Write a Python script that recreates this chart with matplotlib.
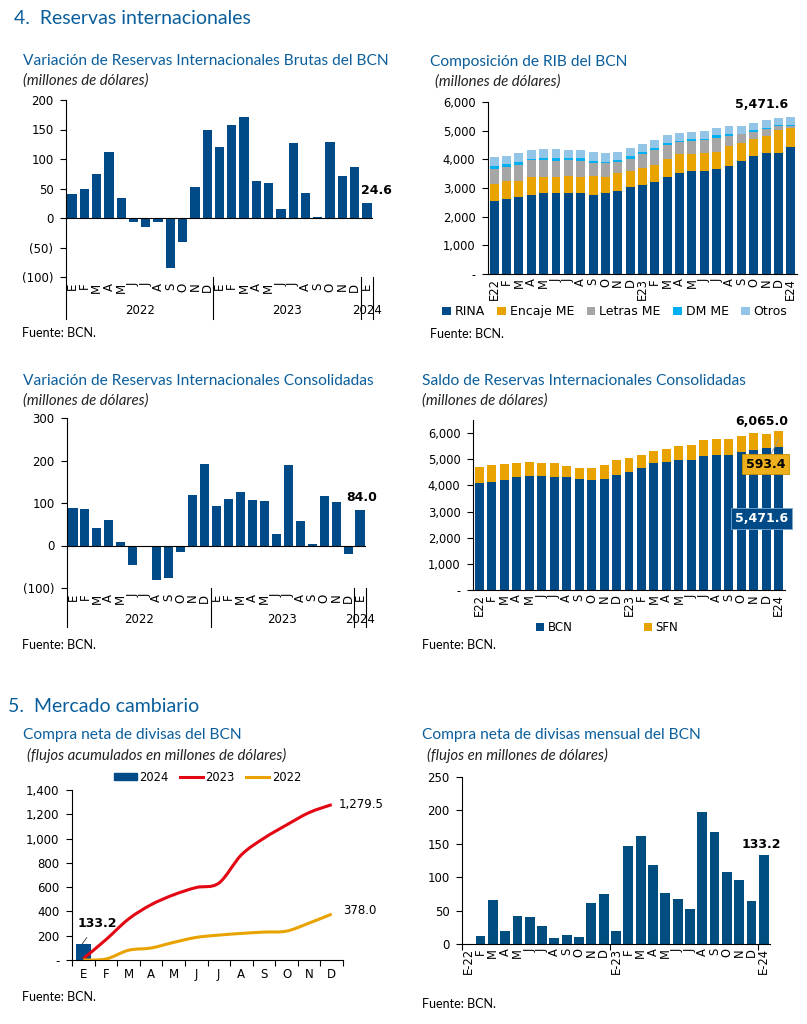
import numpy as np
import matplotlib
matplotlib.use('Agg')
import matplotlib.pyplot as plt
from matplotlib.path import Path
from matplotlib.patches import PathPatch, Patch
from matplotlib.lines import Line2D
from matplotlib.ticker import FuncFormatter
import matplotlib.transforms as mtransforms

# ---- data -------------------------------------------------------------
months = ['E', 'F', 'M', 'A', 'M', 'J', 'J', 'A', 'S', 'O', 'N', 'D']
lab_short = months + months + ['E']
lab_rib = ['E22'] + months[1:] + ['E23'] + months[1:] + ['E24']
lab_dash = ['E-22'] + months[1:] + ['E-23'] + months[1:] + ['E-24']
years = ['2022', '2023', '2024']

var_rib = [40, 49, 74, 112, 34, -7, -15, -7, -85, -41, 52, 150,
           120, 158, 172, 62, 59, 15, 127, 42, 2, 129, 72, 86, 24.6]

rina = [2530, 2630, 2700, 2770, 2840, 2820, 2840, 2810, 2760, 2810, 2910, 3020,
        3090, 3200, 3400, 3530, 3590, 3610, 3650, 3780, 3950, 4120, 4220, 4230, 4430]
encaje = [610, 610, 560, 610, 560, 580, 580, 590, 650, 580, 600, 580,
          610, 610, 600, 640, 610, 600, 620, 680, 630, 600, 600, 810, 680]
letras = [530, 500, 550, 580, 590, 550, 540, 550, 470, 470, 410, 420,
          500, 530, 510, 430, 440, 450, 480, 360, 290, 230, 240, 130, 60]
dm_me = [110, 90, 110, 60, 70, 100, 90, 100, 70, 60, 70, 90,
         40, 60, 70, 40, 60, 50, 100, 60, 30, 70, 30, 20, 30]
otros = [310, 300, 290, 290, 290, 300, 280, 270, 290, 290, 270, 280,
         290, 270, 270, 270, 260, 270, 260, 270, 250, 250, 270, 250, 271.6]

var_cons = [89, 87, 41, 60, 9, -47, -2, -82, -76, -16, 119, 191,
            93, 109, 126, 106, 105, 27, 189, 57, 4, 116, 103, -20, 84.0]

sfn = [600, 640, 600, 550, 530, 490, 510, 430, 440, 450, 520, 580,
       530, 500, 450, 490, 540, 550, 610, 630, 630, 620, 640, 530, 593.4]

acum_2024 = [133.2]
acum_2023 = [11, 167, 337, 455, 537, 597, 633, 866, 1003, 1112, 1214, 1279.5]
acum_2022 = [0, 8, 80, 99, 145, 186, 205, 219, 230, 238, 304, 378.0]

compra_mes = [0, 12, 66, 19, 42, 40, 27, 9, 14, 11, 62, 75,
              19, 146, 162, 118, 76, 67, 52, 198, 168, 108, 96, 64, 133.2]

# ---- style ------------------------------------------------------------
BLUE = '#004B87'
GOLD = '#E8A300'
GRAY = '#A6A6A6'
CYAN = '#00B0F0'
LBLUE = '#93C6E6'
RED = '#E30613'
TITLE = '#0A5E9C'
TFONT = 'Lato'

plt.rcParams['font.family'] = 'DejaVu Sans'
plt.rcParams['font.size'] = 8

W, H = 807, 1024
fig = plt.figure(figsize=(W / 100, H / 100), dpi=100)


def add_ax(l, t, r, b, ysize=8.5):
    ax = fig.add_axes([l / W, 1 - b / H, (r - l) / W, (b - t) / H])
    for s in ['top', 'right', 'bottom']:
        ax.spines[s].set_visible(False)
    ax.spines['left'].set_linewidth(0.8)
    ax.tick_params(axis='y', length=4, width=0.8, labelsize=ysize, pad=5)
    return ax


def vlabels(ax, x, labels, size, pad):
    # vertical category labels, end of the text against the axis
    ax.set_xticks(x, labels)
    ax.tick_params(axis='x', which='major', length=0, pad=pad, labelsize=size)
    plt.setp(ax.get_xticklabels(), rotation=90, ha='right', va='center', rotation_mode='anchor')


def ftext(x, y, s, **kw):
    fig.text(x / W, 1 - y / H, s, va='center', **kw)


def heading(x, y, title, sub, dx=0):
    ftext(x, y, title, family=TFONT, fontsize=11.2, color=TITLE)
    ftext(x + dx, y + 20, sub, family=TFONT, fontsize=10.8, style='italic', color='#222222')


def comma(v, pos):
    return '-' if v == 0 else '{:,.0f}'.format(v)


def paren(v, pos):
    return '({:.0f})'.format(-v) if v < 0 else '{:.0f}'.format(v)


def year_axis(ax, bottom_frac):
    # multi-level category labels like the original spreadsheet chart
    tr = mtransforms.blended_transform_factory(ax.transData, ax.transAxes)
    for xb in [-0.5, 11.5, 23.5, 24.5]:
        ax.plot([xb, xb], [0, bottom_frac], transform=tr, color='black', lw=0.8, clip_on=False)
    for xc, yr in zip([5.5, 17.5, 24.0], years):
        ax.text(xc, bottom_frac + 0.045, yr, transform=tr, ha='center', va='center', fontsize=8.5)


def smooth(ax, x, y, color):
    x = np.asarray(x, float)
    y = np.asarray(y, float)
    verts = [(x[0], y[0])]
    codes = [Path.MOVETO]
    n = len(x)
    for i in range(n - 1):
        p0 = np.array([x[max(i - 1, 0)], y[max(i - 1, 0)]])
        p1 = np.array([x[i], y[i]])
        p2 = np.array([x[i + 1], y[i + 1]])
        p3 = np.array([x[min(i + 2, n - 1)], y[min(i + 2, n - 1)]])
        verts += [tuple(p1 + (p2 - p0) / 6), tuple(p2 - (p3 - p1) / 6), tuple(p2)]
        codes += [Path.CURVE4] * 3
    ax.add_patch(PathPatch(Path(verts, codes), fill=False, edgecolor=color, lw=2.2, zorder=3))


# ---- section headings -------------------------------------------------
ftext(14, 18, '4.  Reservas internacionales', family=TFONT, fontsize=14, color=TITLE)
ftext(8, 706, '5.  Mercado cambiario', family=TFONT, fontsize=14, color=TITLE)

# ---- panel 1 ----------------------------------------------------------
heading(23, 61, 'Variación de Reservas Internacionales Brutas del BCN', '(millones de dólares)')
ax = add_ax(66, 100, 373, 277)
ax.spines['left'].set_bounds(-100, 200)
x = np.arange(len(var_rib))
ax.bar(x, var_rib, width=0.76, color=BLUE)
ax.axhline(0, color='black', lw=0.8)
ax.set_ylim(-100, 200)
ax.set_xlim(-0.5, 24.5)
ax.set_yticks(np.arange(-100, 201, 50))
ax.yaxis.set_major_formatter(FuncFormatter(paren))
vlabels(ax, x, lab_short, 8.5, 4)
year_axis(ax, -0.235)
ax.annotate('24.6', (24, 24.6), xytext=(10, 13), textcoords='offset pixels',
            ha='center', va='center', fontweight='bold', fontsize=9)
ftext(22, 333, 'Fuente: BCN.', family=TFONT, fontsize=9)

# ---- panel 2 ----------------------------------------------------------
heading(430, 62, 'Composición de RIB del BCN', '(millones de dólares)', dx=5)
ax = add_ax(488, 102, 797, 274, ysize=8.3)
x = np.arange(len(rina))
bottom = np.zeros(len(rina))
parts = [(rina, BLUE, 'RINA'), (encaje, GOLD, 'Encaje ME'), (letras, GRAY, 'Letras ME'),
         (dm_me, CYAN, 'DM ME'), (otros, LBLUE, 'Otros')]
for vals, col, name in parts:
    ax.bar(x, vals, bottom=bottom, width=0.72, color=col, label=name)
    bottom = bottom + np.array(vals)
ax.spines['bottom'].set_visible(True)
ax.spines['bottom'].set_linewidth(0.8)
ax.set_ylim(0, 6000)
ax.set_xlim(-0.5, 24.5)
ax.yaxis.set_major_formatter(FuncFormatter(comma))
vlabels(ax, x, lab_rib, 8.3, 3)
ax.annotate('{:,.1f}'.format(bottom[-1]), (24, bottom[-1]), xytext=(-29, 13),
            textcoords='offset pixels', ha='center', va='center', fontweight='bold', fontsize=9)
ax.legend(loc='center', bbox_to_anchor=(0.41, -0.22), ncol=5, frameon=False,
          handlelength=0.7, handleheight=0.7, handletextpad=0.3, columnspacing=1.0,
          fontsize=9, borderaxespad=0)
ftext(430, 334, 'Fuente: BCN.', family=TFONT, fontsize=9)

# ---- panel 3 ----------------------------------------------------------
heading(23, 381, 'Variación de Reservas Internacionales Consolidadas', '(millones de dólares)')
ax = add_ax(67, 418, 366, 588)
ax.spines['left'].set_bounds(-100, 300)
x = np.arange(len(var_cons))
ax.bar(x, var_cons, width=0.76, color=BLUE)
ax.axhline(0, color='black', lw=0.8)
ax.set_ylim(-100, 300)
ax.set_xlim(-0.5, 24.5)
ax.set_yticks(np.arange(-100, 301, 100))
ax.yaxis.set_major_formatter(FuncFormatter(paren))
vlabels(ax, x, lab_short, 8.5, 4)
year_axis(ax, -0.23)
ax.annotate('{:.1f}'.format(var_cons[-1]), (24, var_cons[-1]), xytext=(2, 12),
            textcoords='offset pixels', ha='center', va='center', fontweight='bold', fontsize=9)
ftext(22, 645, 'Fuente: BCN.', family=TFONT, fontsize=9)

# ---- panel 4 ----------------------------------------------------------
heading(422, 381, 'Saldo de Reservas Internacionales Consolidadas', '(millones de dólares)')
ax = add_ax(473, 420, 785, 590, ysize=8.3)
bcn = np.array(rina) + np.array(encaje) + np.array(letras) + np.array(dm_me) + np.array(otros)
x = np.arange(len(bcn))
ax.bar(x, bcn, width=0.72, color=BLUE, label='BCN')
ax.bar(x, sfn, bottom=bcn, width=0.72, color=GOLD, label='SFN')
total = bcn + np.array(sfn)
ax.spines['bottom'].set_visible(True)
ax.spines['bottom'].set_linewidth(0.8)
ax.set_ylim(0, 6500)
ax.set_xlim(-0.5, 24.5)
ax.set_yticks(np.arange(0, 6001, 1000))
ax.yaxis.set_major_formatter(FuncFormatter(comma))
vlabels(ax, x, lab_rib, 8.3, 3)
ax.annotate('{:,.1f}'.format(total[-1]), (24, total[-1]), xytext=(-17, 10),
            textcoords='offset pixels', ha='center', va='center', fontweight='bold', fontsize=9)
ax.annotate('{:,.1f}'.format(sfn[-1]), (24, bcn[-1] + sfn[-1] / 2), xytext=(-13, -25),
            textcoords='offset pixels', ha='center', va='center', fontweight='bold', fontsize=9,
            bbox=dict(boxstyle='square,pad=0.3', fc='#EDB01C', ec='#C89000', lw=0.6),
            arrowprops=dict(arrowstyle='-', color='#9a9a9a', lw=0.6, shrinkA=0, shrinkB=0))
ax.annotate('{:,.1f}'.format(bcn[-1]), (24, bcn[-1] / 2), xytext=(-17, 0),
            textcoords='offset pixels', ha='center', va='center', fontweight='bold', fontsize=9,
            color='white', bbox=dict(boxstyle='square,pad=0.3', fc=BLUE, ec='#7fa8cc', lw=0.6))
ax.legend(loc='center', bbox_to_anchor=(0.43, -0.22), ncol=2, frameon=False,
          handlelength=0.7, handleheight=0.7, handletextpad=0.3, columnspacing=6.0,
          fontsize=8.5, borderaxespad=0)
ftext(422, 645, 'Fuente: BCN.', family=TFONT, fontsize=9)

# ---- panel 5 ----------------------------------------------------------
heading(23, 735, 'Compra neta de divisas del BCN', '(flujos acumulados en millones de dólares)', dx=4)
ax = add_ax(72, 790, 343, 960)
x = np.arange(12)
ax.bar([0], acum_2024, width=0.66, color=BLUE, zorder=2)
smooth(ax, x, acum_2023, RED)
smooth(ax, x, acum_2022, GOLD)
ax.spines['bottom'].set_visible(True)
ax.spines['bottom'].set_linewidth(0.8)
ax.set_ylim(0, 1400)
ax.set_xlim(-0.5, 11.5)
ax.set_yticks(np.arange(0, 1401, 200))
ax.yaxis.set_major_formatter(FuncFormatter(comma))
ax.set_xticks(x, months)
ax.set_xticks(np.arange(-0.5, 12, 1), minor=True)
ax.tick_params(axis='x', which='major', length=0, pad=6, labelsize=8.5)
ax.tick_params(axis='x', which='minor', length=4, width=0.8)
ax.annotate('{:,.1f}'.format(acum_2023[-1]), (11, acum_2023[-1]), xytext=(7, 0),
            textcoords='offset pixels', ha='left', va='center', fontsize=8.5)
ax.annotate('{:,.1f}'.format(acum_2022[-1]), (11, acum_2022[-1]), xytext=(11, 4),
            textcoords='offset pixels', ha='left', va='center', fontsize=8.5)
ax.annotate('{:,.1f}'.format(acum_2024[0]), (-0.05, acum_2024[0]), xytext=(15, 20),
            textcoords='offset pixels', ha='center', va='center', fontsize=9, fontweight='bold',
            arrowprops=dict(arrowstyle='-', color='#333333', lw=0.6, shrinkA=4, shrinkB=0))
handles = [Patch(color=BLUE), Line2D([], [], color=RED, lw=2.2), Line2D([], [], color=GOLD, lw=2.2)]
ax.legend(handles, ['2024', '2023', '2022'], loc='center', bbox_to_anchor=(0.5, 1.075), ncol=3,
          frameon=False, handlelength=2.0, handleheight=0.6, handletextpad=0.2, columnspacing=1.0,
          fontsize=8.3, borderaxespad=0)
ftext(22, 997, 'Fuente: BCN.', family=TFONT, fontsize=9)

# ---- panel 6 ----------------------------------------------------------
heading(422, 735, 'Compra neta de divisas mensual del BCN', '(flujos en millones de dólares)', dx=5)
ax = add_ax(462, 777, 770, 944)
x = np.arange(len(compra_mes))
ax.bar(x, compra_mes, width=0.8, color='#004D80')
ax.spines['bottom'].set_visible(True)
ax.spines['bottom'].set_linewidth(0.8)
ax.set_ylim(0, 250)
ax.set_xlim(-0.5, 24.5)
ax.set_yticks(np.arange(0, 251, 50))
vlabels(ax, x, lab_dash, 8.3, 3)
ax.set_xticks([-0.5, 11.5, 23.5], minor=True)
ax.tick_params(axis='x', which='minor', length=4, width=0.8)
ax.annotate('{:.1f}'.format(compra_mes[-1]), (24, compra_mes[-1]), xytext=(-3, 11),
            textcoords='offset pixels', ha='center', va='center', fontweight='bold', fontsize=9)
ftext(422, 1004, 'Fuente: BCN.', family=TFONT, fontsize=9)

fig.savefig('out.png', dpi=100)
